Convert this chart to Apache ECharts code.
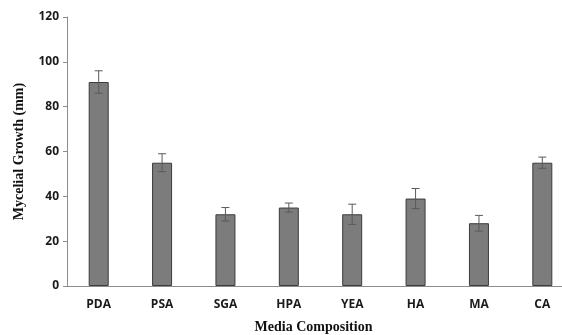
<!DOCTYPE html>
<html>
<head>
<meta charset="utf-8">
<script src="https://cdn.jsdelivr.net/npm/echarts@6/dist/echarts.min.js"></script>
<style>
html,body{margin:0;padding:0;background:#fff;}
#chart{width:562px;height:335px;}
</style>
</head>
<body>
<div id="chart"></div>
<script>
// Mycelial growth by culture medium, with standard-error whiskers
const media = ['PDA', 'PSA', 'SGA', 'HPA', 'YEA', 'HA', 'MA', 'CA'];
const growth = [91, 55, 32, 35, 32, 39, 28, 55];
const growthErr = [5, 4, 3, 2, 4.5, 4.5, 3.5, 2.5];
const yTicks = [0, 20, 40, 60, 80, 100, 120];

const chart = echarts.init(document.getElementById('chart'));

const whiskers = media.map((m, i) => [i, growth[i] - growthErr[i], growth[i] + growthErr[i]]);

chart.setOption({
  animation: false,
  grid: { left: 67, top: 17, width: 507, height: 269, outerBoundsMode: 'none', containLabel: false },
  xAxis: {
    type: 'category',
    data: media,
    name: 'Media Composition',
    nameLocation: 'middle',
    nameGap: 34,
    nameTextStyle: { fontFamily: 'Liberation Serif', fontWeight: 'bold', fontSize: 14, color: '#111', padding: [0, 0, 0, -14] },
    axisLine: { lineStyle: { color: '#8c8c8c', width: 1 } },
    axisTick: { show: false },
    axisLabel: { fontFamily: 'Open Sans', fontWeight: 'bold', fontSize: 12, color: '#1a1a1a', margin: 13 }
  },
  yAxis: {
    type: 'value',
    min: yTicks[0],
    max: yTicks[yTicks.length - 1],
    interval: 20,
    name: 'Mycelial Growth (mm)',
    nameLocation: 'middle',
    nameGap: 41,
    nameTextStyle: { fontFamily: 'Liberation Serif', fontWeight: 'bold', fontSize: 14, color: '#111' },
    axisLine: { show: true, lineStyle: { color: '#8c8c8c', width: 1 } },
    axisTick: { show: true, length: 4, lineStyle: { color: '#8c8c8c' } },
    splitLine: { show: false },
    axisLabel: { fontFamily: 'Open Sans', fontWeight: 'bold', fontSize: 12, color: '#1a1a1a', margin: 8 }
  },
  series: [
    {
      type: 'bar',
      data: growth,
      barWidth: 20,
      itemStyle: { color: '#7c7c7c', borderColor: '#3c3c3c', borderWidth: 1 }
    },
    {
      type: 'custom',
      data: whiskers,
      z: 5,
      renderItem: function (params, api) {
        const x = api.value(0);
        const lo = api.coord([x, api.value(1)]);
        const hi = api.coord([x, api.value(2)]);
        const cap = 4;
        const style = { stroke: '#5a5a5a', lineWidth: 1 };
        return {
          type: 'group',
          children: [
            { type: 'line', shape: { x1: hi[0], y1: hi[1], x2: lo[0], y2: lo[1] }, style: style },
            { type: 'line', shape: { x1: hi[0] - cap, y1: hi[1], x2: hi[0] + cap, y2: hi[1] }, style: style },
            { type: 'line', shape: { x1: lo[0] - cap, y1: lo[1], x2: lo[0] + cap, y2: lo[1] }, style: style }
          ]
        };
      }
    }
  ]
});
</script>
</body>
</html>
